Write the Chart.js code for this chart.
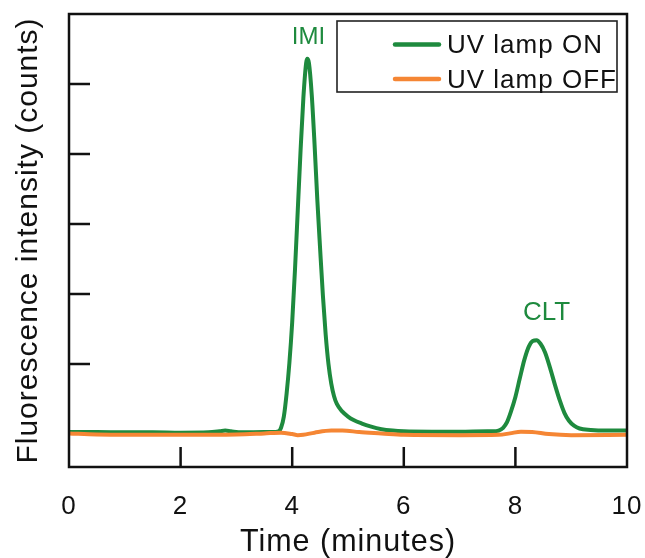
<!DOCTYPE html>
<html>
<head>
<meta charset="utf-8">
<script src="https://cdn.jsdelivr.net/npm/chart.js@4.4.1/dist/chart.umd.min.js"></script>
<style>
  html, body { margin: 0; padding: 0; background: #ffffff; }
  #wrap { width: 645px; height: 558px; }
</style>
</head>
<body>
<div id="wrap"><canvas id="c" width="645" height="558"></canvas></div>
<script>
// ---- Data ----
const seriesLabels = ['UV lamp ON', 'UV lamp OFF'];

// UV lamp ON (green) — time in minutes / fluorescence (arbitrary units, ticks every 1)
const onTime = [0, 0.5, 1.0, 1.5, 2.0, 2.5, 2.7, 2.8, 2.9, 3.1, 3.5, 3.7, 3.76, 3.8, 3.85, 3.9, 3.95, 4.0, 4.05, 4.1, 4.15, 4.2, 4.25, 4.27, 4.3, 4.35, 4.4, 4.45, 4.5, 4.55, 4.6, 4.65, 4.7, 4.75, 4.8, 4.9, 5.0, 5.1, 5.25, 5.4, 5.6, 5.8, 6.0, 6.5, 7.0, 7.5, 7.6, 7.7, 7.78, 7.85, 7.92, 8.0, 8.08, 8.16, 8.24, 8.31, 8.38, 8.45, 8.53, 8.62, 8.71, 8.8, 8.88, 8.96, 9.05, 9.15, 9.35, 9.6, 10.0];
const onValues = [0.03, 0.03, 0.025, 0.025, 0.02, 0.025, 0.04, 0.05, 0.04, 0.025, 0.03, 0.03, 0.04, 0.09, 0.25, 0.58, 1.02, 1.6, 2.35, 3.2, 4.05, 4.8, 5.3, 5.36, 5.3, 4.85, 4.15, 3.35, 2.65, 1.98, 1.42, 1.0, 0.72, 0.54, 0.43, 0.32, 0.25, 0.2, 0.15, 0.11, 0.07, 0.05, 0.04, 0.035, 0.035, 0.04, 0.04, 0.05, 0.09, 0.17, 0.32, 0.53, 0.8, 1.06, 1.25, 1.33, 1.34, 1.29, 1.17, 0.95, 0.7, 0.47, 0.3, 0.19, 0.12, 0.08, 0.06, 0.05, 0.05];

// UV lamp OFF (orange)
const offTime = [0, 0.5, 1.0, 2.0, 3.0, 3.5, 3.8, 4.0, 4.1, 4.2, 4.4, 4.7, 4.9, 5.2, 5.6, 6.0, 7.0, 7.7, 7.9, 8.1, 8.3, 8.6, 9.0, 10.0];
const offValues = [0.01, -0.005, -0.01, -0.01, -0.005, 0.01, 0.02, 0.0, -0.015, -0.01, 0.02, 0.05, 0.05, 0.03, 0.01, -0.01, -0.015, -0.01, 0.01, 0.035, 0.03, 0.0, -0.015, -0.01];

// Axis tick values
const xTicks = [0, 2, 4, 6, 8, 10];
const yTicks = [1, 2, 3, 4, 5];

// Peak labels
const peakNames = ['IMI', 'CLT'];
const peakX = [4.29, 8.56];
const peakY = [5.69, 1.75];

const GREEN = '#1e8a3e';
const ORANGE = '#f58634';
const INK = '#111111';
const FONT = "'Liberation Sans', Arial, Helvetica, sans-serif";

const toXY = (xs, ys) => xs.map((x, i) => ({ x: x, y: ys[i] }));

const decorPlugin = {
  id: 'decor',
  beforeDraw(chart) {
    chart.ctx.letterSpacing = '1px';
  },
  afterDatasetsDraw(chart) {
    const { ctx, chartArea: a, scales: { x, y } } = chart;
    ctx.save();
    ctx.lineCap = 'butt';
    ctx.strokeStyle = INK;
    ctx.lineWidth = 2.5;
    // inward ticks
    ctx.beginPath();
    x.ticks.forEach(t => {
      if (t.value > x.min && t.value < x.max) {
        const px = x.getPixelForValue(t.value);
        ctx.moveTo(px, a.bottom);
        ctx.lineTo(px, a.bottom - 20);
      }
    });
    y.ticks.forEach(t => {
      const py = y.getPixelForValue(t.value);
      ctx.moveTo(a.left, py);
      ctx.lineTo(a.left + 21, py);
    });
    ctx.stroke();
    // frame
    ctx.strokeRect(a.left, a.top, a.right - a.left, a.bottom - a.top);

    // peak labels
    ctx.letterSpacing = '0px';
    ctx.fillStyle = GREEN;
    ctx.textAlign = 'center';
    ctx.textBaseline = 'middle';
    peakNames.forEach((n, i) => {
      ctx.font = (i === 0 ? "24px " : "26px ") + FONT;
      ctx.fillText(n, x.getPixelForValue(peakX[i]), y.getPixelForValue(peakY[i]) + 1.5);
    });

    // legend box
    const bx = a.right - 290, by = a.top + 7, bw = 280, bh = 71;
    ctx.fillStyle = '#ffffff';
    ctx.fillRect(bx, by, bw, bh);
    ctx.strokeStyle = '#222222';
    ctx.lineWidth = 1.6;
    ctx.strokeRect(bx, by, bw, bh);
    const colors = [GREEN, ORANGE];
    const rowsY = [by + 23.5, by + 58];
    ctx.font = "26px " + FONT;
    ctx.letterSpacing = '1px';
    ctx.textAlign = 'left';
    seriesLabels.forEach((lab, i) => {
      ctx.strokeStyle = colors[i];
      ctx.lineWidth = 4.5;
      ctx.lineCap = 'round';
      ctx.beginPath();
      ctx.moveTo(bx + 58, rowsY[i]);
      ctx.lineTo(bx + 102, rowsY[i]);
      ctx.stroke();
      ctx.fillStyle = INK;
      ctx.fillText(lab, bx + 110, rowsY[i] + 1.5);
    });
    ctx.restore();
  }
};

new Chart(document.getElementById('c'), {
  type: 'line',
  data: {
    datasets: [
      {
        label: seriesLabels[0],
        data: toXY(onTime, onValues),
        borderColor: GREEN,
        borderWidth: 4,
        pointRadius: 0,
        cubicInterpolationMode: 'monotone',
        order: 2
      },
      {
        label: seriesLabels[1],
        data: toXY(offTime, offValues),
        borderColor: ORANGE,
        borderWidth: 4,
        pointRadius: 0,
        cubicInterpolationMode: 'monotone',
        order: 1
      }
    ]
  },
  options: {
    responsive: false,
    animation: false,
    devicePixelRatio: 1,
    layout: { padding: { left: 0, right: 18, top: 14, bottom: 0 } },
    plugins: { legend: { display: false }, tooltip: { enabled: false } },
    scales: {
      x: {
        type: 'linear',
        min: 0,
        max: 10,
        afterBuildTicks: s => { s.ticks = xTicks.map(v => ({ value: v })); },
        afterFit: s => { s.height = 91; s.paddingLeft = 0; s.paddingRight = 0; },
        grid: { display: false, drawTicks: false },
        border: { display: false },
        ticks: { color: INK, padding: 24, maxRotation: 0, font: { family: FONT, size: 26 } },
        title: {
          display: true,
          text: 'Time (minutes)',
          color: INK,
          font: { family: FONT, size: 30.5, lineHeight: 1 },
          padding: { top: 0, bottom: 0 }
        }
      },
      y: {
        type: 'linear',
        min: -0.47,
        max: 6.0,
        afterBuildTicks: s => { s.ticks = yTicks.map(v => ({ value: v })); },
        afterFit: s => { s.width = 69; },
        grid: { display: false, drawTicks: false },
        border: { display: false },
        ticks: { display: false },
        title: {
          display: true,
          text: 'Fluorescence intensity (counts)',
          color: INK,
          font: { family: FONT, size: 30, lineHeight: 1 },
          padding: { top: 14, bottom: 0 }
        }
      }
    }
  },
  plugins: [decorPlugin]
});
</script>
</body>
</html>
